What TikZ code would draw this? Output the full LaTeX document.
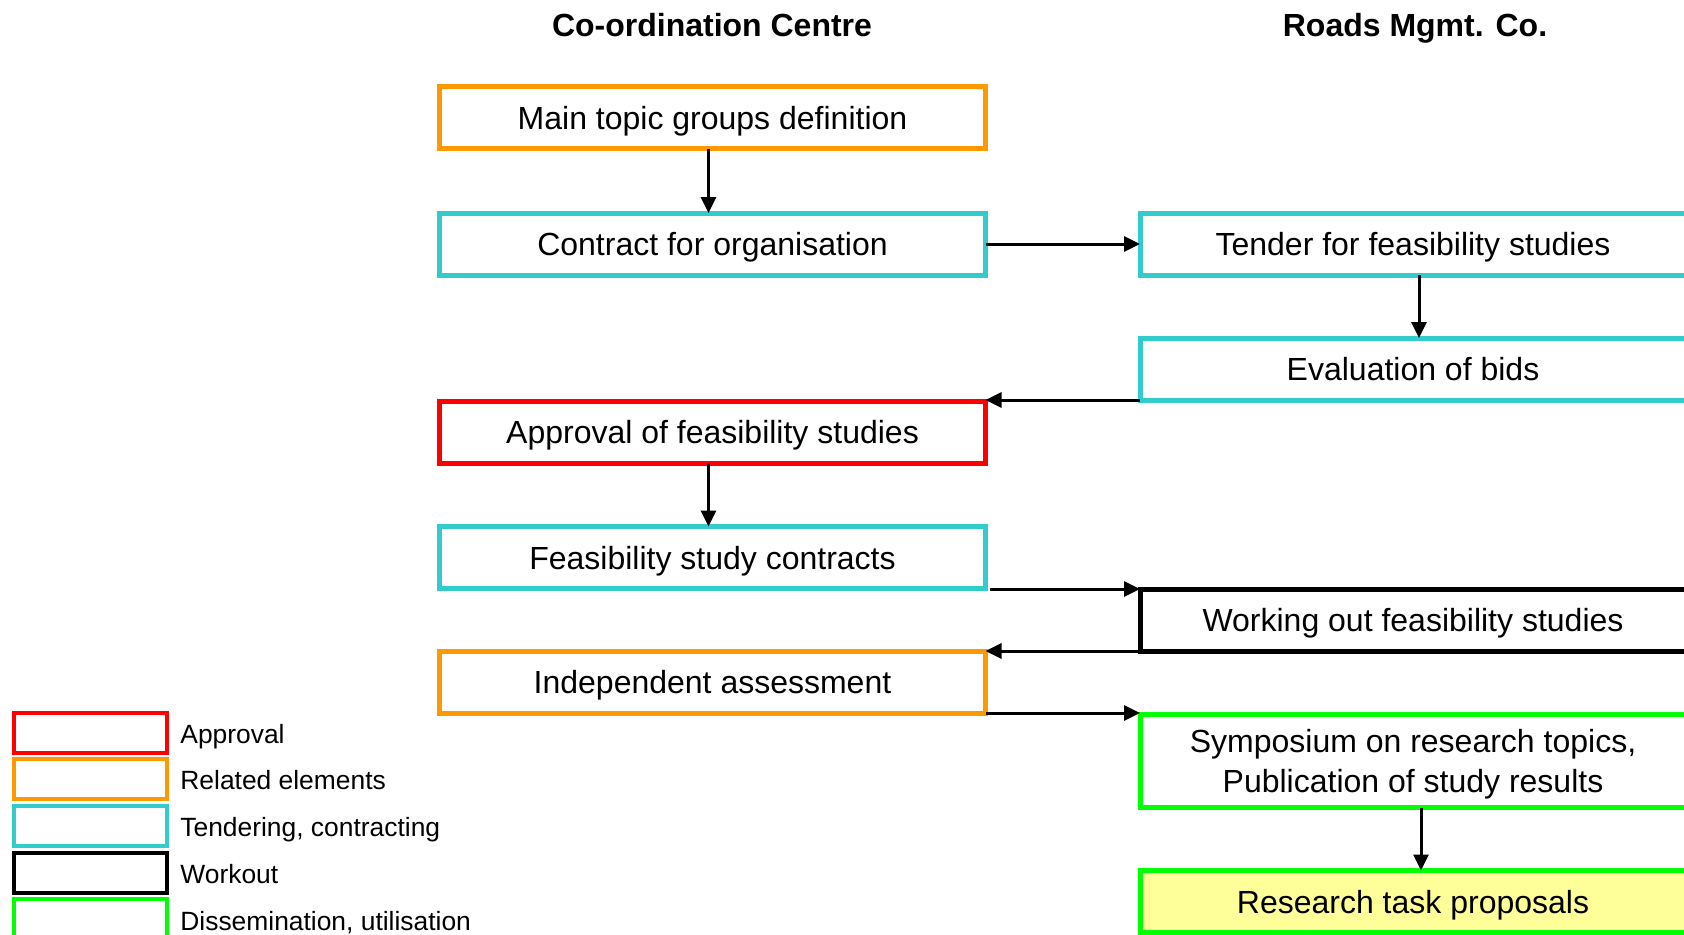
\documentclass[tikz,border=0pt]{standalone}
\usepackage{fontspec}
\setmainfont{Liberation Sans}
\usetikzlibrary{arrows.meta,calc}
\definecolor{cOrange}{HTML}{FF9900}
\definecolor{cCyan}{HTML}{33CCCC}
\definecolor{cRed}{HTML}{FF0000}
\definecolor{cGreen}{HTML}{00FF00}
\definecolor{cYellow}{HTML}{FFFF99}
\tikzset{
  flowbox/.style={draw, rectangle, line width=2.5pt, inner sep=0pt, outer sep=0pt,
    minimum width=273pt, minimum height=31pt, fill=white,
    text height=12.8pt, text depth=1.2pt,
    font=\fontsize{16}{20}\selectfont},
  legbox/.style={draw, rectangle, line width=2pt, inner sep=0pt, outer sep=0pt,
    minimum width=76.5pt, minimum height=20pt},
  legtext/.style={anchor=base west, inner sep=0pt, font=\fontsize{13.2}{16}\selectfont},
  title/.style={anchor=base, font=\fontsize{16}{19}\selectfont\bfseries, inner sep=0pt},
  conn/.style={line width=1.5pt, -{Triangle[length=8pt,width=7.5pt]}},
}
\begin{document}
\begin{tikzpicture}[x=0.5pt,y=-0.5pt]
\useasboundingbox (0,0) rectangle (1684,934);
\clip (0,0) rectangle (1684,934);
\fill[white] (0,0) rectangle (1684,934);

\node[title] (t1) at (712,36) {Co-ordination Centre};
\node[title] (t2) at (1415,36) {Roads Mgmt. Co.};

% left column
\node[flowbox, draw=cOrange] (main) at (712.5,117.7) {Main topic groups definition};
\node[flowbox, draw=cCyan] (contract) at (712.5,244) {Contract for organisation};
\node[flowbox, draw=cRed] (appr) at (712.5,432) {Approval of feasibility studies};
\node[flowbox, draw=cCyan] (feas) at (712.5,557.5) {Feasibility study contracts};
\node[flowbox, draw=cOrange] (indep) at (712.5,682) {Independent assessment};

% right column
\node[flowbox, draw=cCyan] (tender) at (1413,244) {Tender for feasibility studies};
\node[flowbox, draw=cCyan] (eval) at (1413,369) {Evaluation of bids};
\node[flowbox, draw=black] (work) at (1413,620) {Working out feasibility studies};
\node[flowbox, draw=cGreen, minimum height=46.6pt, text height=, text depth=] (symp) at (1413,761)
  {\raisebox{0pt}[\dimexpr\height+3.4pt\relax]{\begin{tabular}{@{}c@{}}Symposium on research topics,\\Publication of study results\end{tabular}}};
\node[flowbox, draw=cGreen, fill=cYellow] (res) at (1413,901.5) {Research task proposals};

% connectors
\draw[conn] ($(main.south)+(-4,0)$) -- ($(contract.north)+(-4,0)$);
\draw[conn] (contract.east) -- (tender.west);
\draw[conn] ($(tender.south)+(6,0)$) -- ($(eval.north)+(6,0)$);
\draw[conn] (eval.south west) -- (eval.south west -| appr.east);
\draw[conn] ($(appr.south)+(-4,0)$) -- ($(feas.north)+(-4,0)$);
\draw[conn] ($(work.north west -| feas.east)+(4,0)$) -- (work.north west);
\draw[conn] (work.south west) -- (work.south west -| indep.east);
\draw[conn] (indep.south east) -- (indep.south east -| symp.west);
\draw[conn] ($(symp.south)+(8,0)$) -- ($(res.north)+(8,0)$);

% legend
\node[legbox, draw=cRed] (l1) at (90.5,733) {};
\node[legbox, draw=cOrange] (l2) at (90.5,779) {};
\node[legbox, draw=cCyan] (l3) at (90.5,825.5) {};
\node[legbox, draw=black] (l4) at (90.5,872.5) {};
\node[legbox, draw=cGreen] (l5) at (90.5,919) {};
\node[legtext] (lt1) at (180,743) {Approval};
\node[legtext] (lt2) at (180,789.5) {Related elements};
\node[legtext] (lt3) at (180,836.5) {Tendering, contracting};
\node[legtext] (lt4) at (180,883) {Workout};
\node[legtext] (lt5) at (180,930) {Dissemination, utilisation};
\end{tikzpicture}
\end{document}
